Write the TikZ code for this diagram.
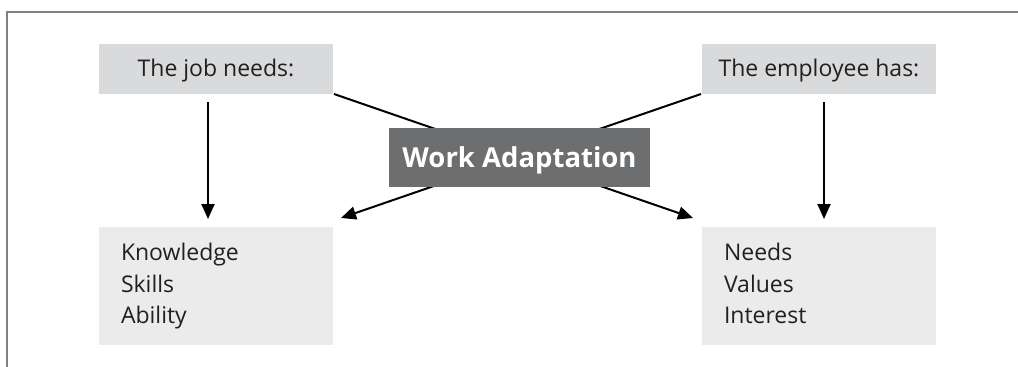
\documentclass[tikz,border=0pt]{standalone}
\usepackage{fontspec}
\setmainfont{Open Sans}
\usetikzlibrary{positioning,arrows.meta}
\definecolor{headgray}{HTML}{D9DADB}
\definecolor{listgray}{HTML}{EBEBEB}
\definecolor{coregray}{HTML}{6D6E70}
\definecolor{framegray}{HTML}{808080}
\definecolor{inkgray}{HTML}{231F20}
\begin{document}
\begin{tikzpicture}[x=1pt,y=-1pt,>={Triangle[length=15pt,width=13pt]},line width=2pt,
  headbox/.style={fill=headgray,text=inkgray,minimum width=234pt,minimum height=50pt,inner sep=0pt,
    font=\fontsize{23}{28}\selectfont,text height=17pt,text depth=2pt},
  listbox/.style={fill=listgray,text=inkgray,minimum height=118pt,text width=190pt,inner xsep=22pt,
    inner ysep=0pt,align=left,font=\fontsize{23}{31.5}\selectfont},
  corebox/.style={fill=coregray,text=white,minimum width=261pt,minimum height=59pt,inner sep=0pt,
    font=\fontsize{27.5}{33}\selectfont\bfseries,text height=20pt,text depth=0pt}]

\useasboundingbox (0,0) rectangle (1018,367);
\draw[framegray,line width=1.6pt] (7,367) -- (7,12) -- (1018,12);

\node[headbox] (J) at (216,69) {The job needs:};
\node[headbox] (E) at (819,69) {The employee has:};
\node[listbox,below=131pt of J] (K) {\strut Knowledge\\Skills\\Ability\strut};
\node[listbox,below=131pt of E] (N) {\strut Needs\\Values\\Interest\strut};

\draw[->,shorten <=7pt,shorten >=7pt] ([xshift=-8pt]J.south) -- ([xshift=-8pt]K.north);
\draw[->,shorten <=7pt,shorten >=7pt] ([xshift=5pt]E.south) -- ([xshift=5pt]N.north);
\draw[->] ([yshift=1pt]J.south east) -- ([shift={(-8pt,8pt)}]N.north west);
\draw[->] ([yshift=1pt]E.south west) -- ([shift={(7pt,8pt)}]K.north east);

\node[corebox] (W) at (519.5,157.5) {Work Adaptation};

\end{tikzpicture}
\end{document}
